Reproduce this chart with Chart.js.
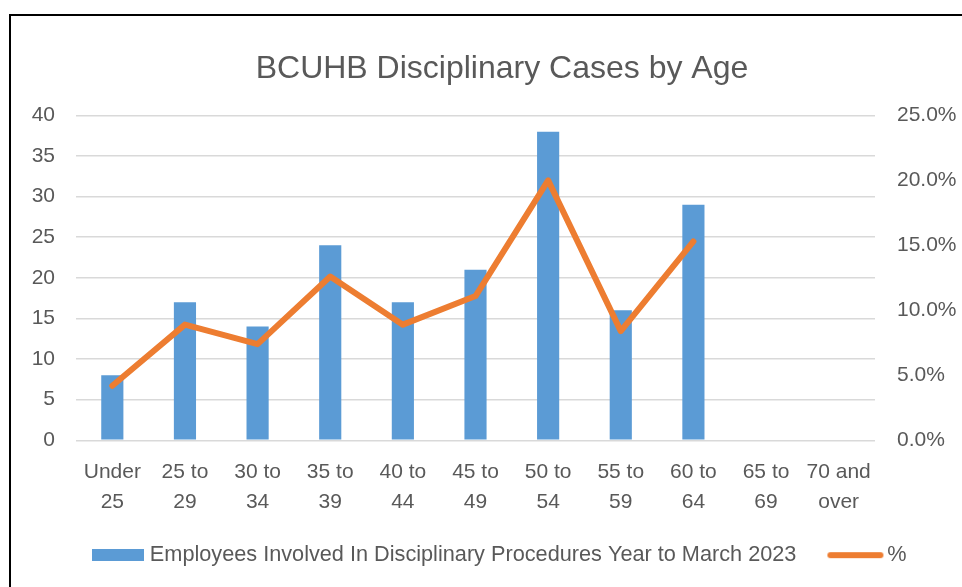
<!DOCTYPE html>
<html>
<head>
<meta charset="utf-8">
<script src="https://cdn.jsdelivr.net/npm/chart.js@4.4.1/dist/chart.umd.min.js"></script>
<style>
  html, body { margin: 0; padding: 0; background: #fff; }
  #wrap { position: absolute; left: 0; top: 0; width: 962px; height: 587px; }
  #frame { position: absolute; left: 9px; top: 14px; width: 1000px; height: 700px;
           border-left: 2px solid #000; border-top: 2px solid #000; pointer-events: none; }
</style>
</head>
<body>
<div id="wrap"><canvas id="c" width="962" height="587"></canvas></div>
<div id="frame"></div>
<script>
const chartTitle = "BCUHB Disciplinary Cases by Age";
const categories = [
  ["Under", "25"], ["25 to", "29"], ["30 to", "34"], ["35 to", "39"],
  ["40 to", "44"], ["45 to", "49"], ["50 to", "54"], ["55 to", "59"],
  ["60 to", "64"], ["65 to", "69"], ["70 and", "over"]
];
const employeeCounts = [8, 17, 14, 24, 17, 21, 38, 16, 29, null, null];
const percentShare = [4.2, 8.9, 7.4, 12.6, 8.9, 11.1, 20.0, 8.4, 15.3, null, null];
const seriesNames = ["Employees Involved In Disciplinary Procedures Year to March 2023", "%"];
const leftTicks = { min: 0, max: 40, step: 5 };
const rightTicks = { min: 0, max: 25, step: 5 };

const FONT = "'Liberation Sans', Arial, sans-serif";
const TXT = '#595959';
const BLUE = '#5B9BD5';
const ORANGE = '#ED7D31';

// legend symbols (swatches only)
function swatchRect() {
  const c = document.createElement('canvas'); c.width = 52; c.height = 12;
  const g = c.getContext('2d'); g.fillStyle = BLUE; g.fillRect(0, 0, 52, 12); return c;
}
function swatchLine() {
  const c = document.createElement('canvas'); c.width = 58; c.height = 8;
  const g = c.getContext('2d'); g.strokeStyle = ORANGE; g.lineWidth = 6; g.lineCap = 'round';
  g.beginPath(); g.moveTo(4, 4); g.lineTo(54, 4); g.stroke(); return c;
}
const legendSymbols = [swatchRect(), swatchLine()];

const shiftPlugin = {
  id: 'shiftBlocks',
  afterLayout(chart) {
    if (chart.titleBlock) chart.titleBlock.left += 42;
    if (chart.legend) {
      chart.legend.left = 59;
      chart.legend.top -= 11;
      chart.legend.bottom -= 11;
    }
  }
};

new Chart(document.getElementById('c'), {
  plugins: [shiftPlugin],
  data: {
    labels: categories,
    datasets: [
      {
        type: 'bar',
        label: seriesNames[0],
        data: employeeCounts,
        backgroundColor: BLUE,
        borderWidth: 0,
        barPercentage: 1,
        categoryPercentage: 0.305,
        yAxisID: 'y',
        order: 2
      },
      {
        type: 'line',
        label: seriesNames[1],
        data: percentShare,
        borderColor: ORANGE,
        backgroundColor: ORANGE,
        borderWidth: 6,
        borderCapStyle: 'round',
        borderJoinStyle: 'round',
        pointRadius: 0,
        pointHoverRadius: 0,
        tension: 0,
        spanGaps: false,
        yAxisID: 'y1',
        order: 1
      }
    ]
  },
  options: {
    responsive: false,
    animation: false,
    devicePixelRatio: 1,
    layout: { padding: { left: 0, right: 0, top: 0, bottom: 0 } },
    plugins: {
      tooltip: { enabled: false },
      title: {
        display: true,
        text: chartTitle,
        color: TXT,
        font: { family: FONT, size: 32, weight: 'normal', lineHeight: 1.2 },
        padding: { top: 50, bottom: 27 }
      },
      legend: {
        position: 'bottom',
        align: 'start',
        labels: {
          color: TXT,
          font: { family: FONT, size: 21.7 },
          usePointStyle: true,
          pointStyleWidth: 42,
          boxHeight: 12,
          padding: 38,
          sort: (a, b) => a.datasetIndex - b.datasetIndex,
          generateLabels: (chart) => {
            const items = Chart.defaults.plugins.legend.labels.generateLabels(chart);
            items.forEach(it => {
              it.pointStyle = legendSymbols[it.datasetIndex];
              it.lineWidth = 0;
            });
            return items;
          }
        }
      }
    },
    scales: {
      x: {
        grid: { display: false, drawTicks: false },
        border: { display: false },
        ticks: {
          color: TXT,
          font: { family: FONT, size: 21, lineHeight: 1.41 },
          padding: 17,
          maxRotation: 0,
          autoSkip: false
        },
        afterFit: (s) => { s.height = 77; }
      },
      y: {
        position: 'left',
        min: leftTicks.min, max: leftTicks.max,
        grid: { color: '#D9D9D9', lineWidth: 1.5, drawTicks: false },
        border: { display: false },
        ticks: {
          stepSize: leftTicks.step,
          color: TXT,
          font: { family: FONT, size: 21 },
          padding: 21
        },
        afterFit: (s) => { s.width = 76; }
      },
      y1: {
        position: 'right',
        min: rightTicks.min, max: rightTicks.max,
        grid: { display: false, drawTicks: false },
        border: { display: false },
        ticks: {
          stepSize: rightTicks.step,
          color: TXT,
          font: { family: FONT, size: 21 },
          padding: 22,
          callback: (v) => Number(v).toFixed(1) + '%'
        },
        afterFit: (s) => { s.width = 87; }
      }
    }
  }
});
</script>
</body>
</html>
